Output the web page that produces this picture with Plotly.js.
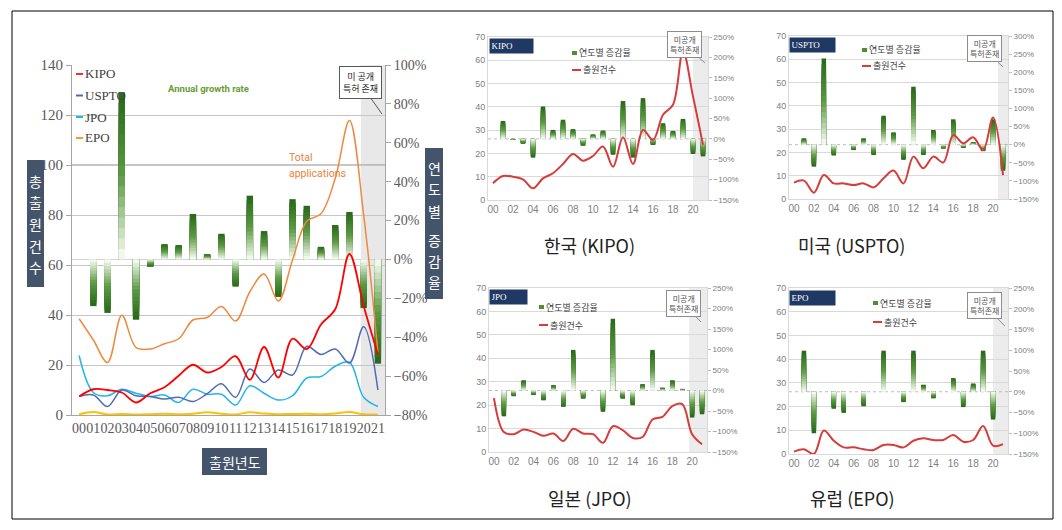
<!DOCTYPE html>
<html><head><meta charset="utf-8">
<script src="https://cdn.plot.ly/plotly-3.0.1.min.js"></script>
<style>html,body{margin:0;padding:0;background:#fff}#chart{width:1062px;height:530px}</style>
</head><body><div id="chart"></div>
<script>
// ---------- data ----------
const years = ['00','01','02','03','04','05','06','07','08','09','10','11','12','13','14','15','16','17','18','19','20','21'];
const evenYears = years.filter((_, i) => i % 2 === 0);

// main chart (left: counts, right: growth %)
const totalApps  = [38.5, 30, 21, 39.9, 27, 26.4, 28.5, 30.5, 38, 39, 43.4, 37.6, 49.3, 56.4, 45.6, 62, 77.5, 80.5, 94.6, 117.8, 80, 25];
const kipoMain   = [7.4, 10.3, 10, 9, 5, 8.7, 11.1, 15.7, 20.1, 17, 19.2, 23.5, 14.1, 27.2, 15, 30.5, 26.4, 36.2, 42.3, 64.4, 43.6, 24.2];
const usptoMain  = [7.4, 8, 3.4, 10, 7.7, 7.4, 6.4, 7.1, 5.4, 8.5, 12.5, 7.1, 18.4, 13, 18, 16, 27.5, 24.2, 26.4, 20.8, 35.3, 10];
const jpoMain    = [23.8, 9, 7.7, 10.3, 8.7, 7.4, 8, 5, 10.3, 8.3, 8.3, 4, 11.7, 8.7, 6, 7.7, 14.8, 15.4, 19.5, 21.1, 7.1, 3.4];
const epoMain    = [0.3, 1.2, 0.2, 0.4, 0.2, 0.3, 0.5, 0.3, 0.5, 1.1, 0.5, 0.2, 1.1, 0.6, 0.3, 0.4, 0.5, 0.3, 0.6, 1.2, 0.3, 0.2];
const growthMain = [0, -24, -27.5, 86, -31, -3.8, 7.9, 7.4, 23.4, 2.7, 13.2, -14, 32.8, 14.6, -19.3, 31, 27.6, 6.5, 17.7, 24.4, -25, -53.6];

// small charts
const kipoCount  = [7.2, 10.3, 10, 8.9, 5, 9.3, 11.5, 15.5, 19.8, 16.9, 18.9, 23, 14.3, 27, 15.5, 30.1, 25.8, 36.6, 40.9, 63.8, 44.5, 23.7];
const kipoRate   = [0, 44, -2, -12, -46, 79.5, 22, 47, 24, -17, 11, 20.5, -39, 93, -46, 100, -15, 38.5, 19.7, 49, -37, -43];
const usptoCount = [7, 7.9, 2.7, 10.3, 6.7, 6.7, 6, 6.7, 5, 8.9, 12.2, 6.7, 18.2, 13.2, 18.2, 15.7, 27.5, 23.9, 26.5, 21, 35, 10.3];
const usptoRate  = [0, 17.5, -60.7, 238, -30, 0, -15, 17.5, -28.5, 80, 34, -42, 160, -28.5, 40.5, -11, 70, -9, 7, -18, 70, -72];
const jpoCount   = [23, 8.5, 7.6, 9.6, 8.6, 6.9, 7.9, 4.7, 9.9, 7.9, 7.6, 3.9, 11, 9.3, 6, 6.4, 13.9, 15, 19.6, 20.4, 7.6, 3.3];
const jpoRate    = [0, -63, -14, 25, -11, -24, 13, -40, 99, -20, 0, -52, 175, -20, -36, 15.5, 99, 7, 25, 4, -66, -58];
const epoCount   = [1, 2, 0, 9.9, 5.6, 2.8, 2.8, 2, 1.7, 3.8, 3.8, 2.8, 5.6, 6.6, 5.9, 5.9, 8, 5.2, 5.9, 11.8, 3.5, 4.2];
const epoRate    = [0, 99, -100, 0, -41, -51, 0, -35, 0, 99, 0, -25, 99, 17, -16, 0, 33, -37, 20, 99, -67, 0];

// ---------- helpers ----------
const W = 1062, H = 530;
const px = x => x / W, py = y => 1 - y / H;

// vertical gradient for bars: dark at tip, pale at base (drawn as overlaid bars)
const GSTEPS = 16;
function mix(a, b, t) {
  const pa = [1, 3, 5].map(i => parseInt(a.substr(i, 2), 16));
  const pb = [1, 3, 5].map(i => parseInt(b.substr(i, 2), 16));
  return 'rgb(' + pa.map((v, i) => Math.round(v + (pb[i] - v) * t)).join(',') + ')';
}
function gradColor(t) { // t: 0 tip .. 1 base
  return t < 0.5 ? mix('#2a6a1b', '#5d9a45', t / 0.5) : mix('#5d9a45', '#f2f8ee', (t - 0.5) / 0.5);
}
function gradientBars(vals, xa, ya, width) {
  const out = [];
  for (let k = 0; k < GSTEPS; k++) {
    const f = 1 - k / GSTEPS;
    out.push({type: 'bar', x: years, y: vals.map(v => v * f), xaxis: xa, yaxis: ya, width: width,
      marker: {color: gradColor(k / (GSTEPS - 1)), line: {width: 0}}, hoverinfo: 'skip', showlegend: false});
  }
  return out;
}
function line(vals, xa, ya, color, width) {
  return {type: 'scatter', mode: 'lines', x: years, y: vals, xaxis: xa, yaxis: ya,
    line: {shape: 'spline', smoothing: 1, color: color, width: width}, showlegend: false, hoverinfo: 'skip'};
}
function pline(x0, x1, y, color, w) {
  return {type: 'line', xref: 'paper', yref: 'paper', x0: px(x0), x1: px(x1), y0: py(y), y1: py(y), line: {color: color, width: w}};
}
function prect(x0, x1, y0, y1, color) {
  return {type: 'rect', xref: 'paper', yref: 'paper', x0: px(x0), x1: px(x1), y0: py(y1), y1: py(y0), fillcolor: color, line: {width: 0}};
}

const traces = [];
// main
traces.push(...gradientBars(growthMain, 'x', 'y', 0.45));
traces.push(line(totalApps, 'x', 'y2', '#f0883e', 1.5));
traces.push(line(epoMain, 'x', 'y2', '#ffc000', 2));
traces.push(line(jpoMain, 'x', 'y2', '#23b4e8', 1.5));
traces.push(line(usptoMain, 'x', 'y2', '#4f6bb3', 1.5));
traces.push(line(kipoMain, 'x', 'y2', '#ff0000', 1.8));

const smalls = [
  {xi: 2, pi: 3, ci: 4, rate: kipoRate,  count: kipoCount,  xd: [488, 708],  yd: [37, 200],  pr: [-150, 250], shade: 20.0, name: 'KIPO',
   label: [511, 46, 40], call: [684.5, 45, 705, 63], leg: [572, 53, 70]},
  {xi: 3, pi: 5, ci: 6, rate: usptoRate, count: usptoCount, xd: [789, 1008], yd: [36, 199],  pr: [-150, 300], shade: 20.5, name: 'USPTO',
   label: [812, 45, 42], call: [984, 49, 1003, 67], leg: [862, 50, 66]},
  {xi: 4, pi: 7, ci: 8, rate: jpoRate,   count: jpoCount,   xd: [489, 707],  yd: [288, 452], pr: [-150, 250], shade: 19.7, name: 'JPO',
   label: [508, 297, 34], call: [683, 303, 701, 322], leg: [539, 307, 325]},
  {xi: 5, pi: 9, ci: 10, rate: epoRate,  count: epoCount,   xd: [789, 1008], yd: [288, 454], pr: [-150, 250], shade: 20.0, name: 'EPO',
   label: [812, 298, 42], call: [984, 305.5, 1005, 326], leg: [873, 303, 322]}
];

const layout = {
  width: W, height: H, margin: {l: 0, r: 0, t: 0, b: 0},
  paper_bgcolor: '#ffffff', plot_bgcolor: 'rgba(0,0,0,0)',
  barmode: 'overlay', showlegend: false,
  font: {family: 'Noto Sans CJK KR', color: '#333'},
  xaxis: {domain: [px(72), px(385)], anchor: 'y', type: 'category', range: [-0.5, 21.5], tickangle: 0,
    tickmode: 'array', tickvals: years, ticktext: years,
    tickfont: {family: 'Liberation Serif', size: 14, color: '#595959'}, showline: true, linecolor: '#a6a6a6',
    ticks: '', showgrid: false, zeroline: false},
  yaxis: {domain: [py(415), py(65)], anchor: 'x', side: 'right', range: [-80, 100], dtick: 20, ticksuffix: '%',
    showgrid: false, zeroline: true, zerolinecolor: '#d4d4d4', zerolinewidth: 1, showline: true, linecolor: '#a6a6a6',
    ticks: 'outside', ticklen: 5, tickcolor: '#a6a6a6', tickfont: {family: 'Liberation Serif', size: 14, color: '#595959'}},
  yaxis2: {overlaying: 'y', anchor: 'x', side: 'left', range: [0, 140], dtick: 20, showgrid: true, gridcolor: '#c6c6c6',
    zeroline: false, showline: true, linecolor: '#a6a6a6', ticks: 'outside', ticklen: 5, tickcolor: '#a6a6a6',
    tickfont: {family: 'Liberation Serif', size: 15, color: '#595959'}},
  shapes: [], annotations: []
};

// main shade + darker 100 line + outer frame
layout.shapes.push({type: 'rect', xref: 'x', x0: 19.8, x1: 21.5, yref: 'y domain', y0: 0, y1: 1,
  fillcolor: '#e8e8e8', line: {width: 0}, layer: 'below'});
layout.shapes.push({type: 'line', xref: 'x domain', x0: 0, x1: 1, yref: 'y2', y0: 100, y1: 100,
  line: {color: '#8c8c8c', width: 1}, layer: 'below'});
layout.shapes.push({type: 'rect', xref: 'paper', yref: 'paper', x0: px(12), x1: px(1053), y0: py(519), y1: py(11),
  line: {color: '#000', width: 1}, fillcolor: 'rgba(0,0,0,0)'});

// axis title boxes
const slate = '#44546a';
layout.shapes.push(prect(27, 44, 160, 287, slate));
layout.shapes.push(prect(425, 443, 148, 299, slate));
layout.shapes.push(prect(202, 267, 448, 475, slate));

const leftChars = ['총', '출', '원', '건', '수'];
const leftY = [181, 202.5, 224, 245.5, 267];
leftChars.forEach((c, i) => layout.annotations.push({xref: 'paper', yref: 'paper', x: px(35.5), y: py(leftY[i]), text: c,
  showarrow: false, xanchor: 'center', yanchor: 'middle', font: {size: 14, color: '#fff', family: 'Noto Sans CJK KR'}}));
const rightChars = ['연', '도', '별', '증', '감', '율'];
const rightY = [168, 189, 211, 240, 261, 282];
rightChars.forEach((c, i) => layout.annotations.push({xref: 'paper', yref: 'paper', x: px(434), y: py(rightY[i]), text: c,
  showarrow: false, xanchor: 'center', yanchor: 'middle', font: {size: 14, color: '#fff', family: 'Noto Sans CJK KR'}}));
layout.annotations.push({xref: 'paper', yref: 'paper', x: px(234.5), y: py(461.5), text: '출원년도', showarrow: false,
  xanchor: 'center', yanchor: 'middle', font: {size: 14, color: '#fff', family: 'Noto Sans CJK KR'}});

// main legend (text + coloured dash)
const mainLeg = [['KIPO', '#ff2a2a', 74], ['USPTO', '#4f6bb3', 95.5], ['JPO', '#23b4e8', 117], ['EPO', '#f0a030', 138]];
mainLeg.forEach(([t, c, y]) => {
  layout.shapes.push(pline(76, 83, y, c, 2));
  layout.annotations.push({xref: 'paper', yref: 'paper', x: px(83), y: py(y), xanchor: 'left', yanchor: 'middle',
    showarrow: false, text: t, font: {family: 'Liberation Serif', size: 13, color: '#404040'}});
});

layout.annotations.push({xref: 'paper', yref: 'paper', x: px(166), y: py(89), xanchor: 'left', yanchor: 'middle', showarrow: false,
  text: 'Annual growth rate', font: {family: 'Roboto', size: 9.5, color: '#6a9c35', weight: 'bold'}});
layout.annotations.push({xref: 'paper', yref: 'paper', x: px(287), y: py(157), xanchor: 'left', yanchor: 'middle', showarrow: false,
  text: 'Total', font: {family: 'Roboto', size: 10.5, color: '#e8823a'}});
layout.annotations.push({xref: 'paper', yref: 'paper', x: px(287), y: py(173), xanchor: 'left', yanchor: 'middle', showarrow: false,
  text: 'applications', font: {family: 'Roboto', size: 10.5, color: '#e8823a'}});

// main callout
layout.annotations.push({xref: 'paper', yref: 'paper', x: px(382), y: py(114), ax: -22, ay: -31, showarrow: true,
  arrowhead: 0, arrowwidth: 1, arrowcolor: '#595959', text: '미 공개<br>특허 존재', bgcolor: '#fff', bordercolor: '#595959',
  borderwidth: 1, borderpad: 3, font: {size: 9, color: '#222'}});

// small charts
smalls.forEach(s => {
  const xa = 'x' + s.xi, pa = 'y' + s.pi, ca = 'y' + s.ci;
  traces.push(...gradientBars(s.rate, xa, pa, 0.45));
  traces.push(line(s.count, xa, ca, '#d63c3a', 2));
  layout['xaxis' + s.xi] = {domain: [px(s.xd[0]), px(s.xd[1])], anchor: pa, type: 'category', range: [-0.5, 21.5],
    tickmode: 'array', tickvals: evenYears, ticktext: evenYears, tickangle: 0,
    tickfont: {family: 'Liberation Sans', size: 10, color: '#7f7f7f'},
    showline: true, linecolor: '#d9d9d9', mirror: true, ticks: '', showgrid: false, zeroline: false};
  layout['yaxis' + s.pi] = {domain: [py(s.yd[1]), py(s.yd[0])], anchor: xa, side: 'right', range: s.pr, dtick: 50,
    ticksuffix: '%', showgrid: false, zeroline: false, showline: false, ticks: 'outside', ticklen: 3, tickcolor: '#bfbfbf',
    tickfont: {family: 'Liberation Sans', size: 8, color: '#808080'}};
  layout['yaxis' + s.ci] = {overlaying: pa, anchor: xa, side: 'left', range: [0, 70], dtick: 10, showgrid: true,
    gridcolor: '#d9d9d9', zeroline: false, showline: true, linecolor: '#d9d9d9', mirror: true,
    tickfont: {family: 'Liberation Sans', size: 9, color: '#808080'}};
  layout.shapes.push({type: 'rect', xref: xa, x0: s.shade, x1: 21.5, yref: pa + ' domain', y0: 0, y1: 1,
    fillcolor: '#ececec', line: {width: 0}, layer: 'below'});
  layout.shapes.push({type: 'line', xref: xa + ' domain', x0: 0, x1: 1, yref: pa, y0: 0, y1: 0,
    line: {color: '#bdbdbd', width: 1, dash: 'dot'}, layer: 'below'});
  // name box
  layout.annotations.push({xref: 'paper', yref: 'paper', x: px(s.label[0]), y: py(s.label[1]), xanchor: 'center', yanchor: 'middle',
    showarrow: false, text: s.name, bgcolor: '#1f3864', width: s.label[2], height: 11, borderpad: 1.5, align: 'left',
    font: {family: 'Liberation Serif', size: 9, color: '#fff'}});
  // legend
  layout.shapes.push(prect(s.leg[0], s.leg[0] + 5, s.leg[1] - 2, s.leg[1] + 2, '#4e8f35'));
  layout.annotations.push({xref: 'paper', yref: 'paper', x: px(s.leg[0] + 5), y: py(s.leg[1]), xanchor: 'left', yanchor: 'middle',
    showarrow: false, text: '연도별 증감율', font: {size: 9, color: '#404040'}});
  layout.shapes.push(pline(s.leg[0], s.leg[0] + 9, s.leg[2], '#d63c3a', 2));
  layout.annotations.push({xref: 'paper', yref: 'paper', x: px(s.leg[0] + 9), y: py(s.leg[2]), xanchor: 'left', yanchor: 'middle',
    showarrow: false, text: '출원건수', font: {size: 9, color: '#404040'}});
  // callout
  layout.annotations.push({xref: 'paper', yref: 'paper', x: px(s.call[2]), y: py(s.call[3]),
    ax: s.call[0] - s.call[2], ay: s.call[1] - s.call[3], showarrow: true, arrowhead: 0, arrowwidth: 1, arrowcolor: '#8c8c8c',
    text: '미공개<br>특허존재', bgcolor: '#fff', bordercolor: '#8c8c8c', borderwidth: 1, borderpad: 2,
    font: {size: 8, color: '#555'}});
});

// captions
[['한국 (KIPO)', 589, 245], ['미국 (USPTO)', 851, 245], ['일본 (JPO)', 590, 498], ['유럽 (EPO)', 853, 498]].forEach(([t, x, y]) =>
  layout.annotations.push({xref: 'paper', yref: 'paper', x: px(x), y: py(y), xanchor: 'center', yanchor: 'middle', showarrow: false,
    text: t, font: {size: 18, color: '#222', family: 'Noto Sans CJK KR'}}));

Plotly.newPlot('chart', traces, layout, {displayModeBar: false, staticPlot: true});
</script>
</body></html>
